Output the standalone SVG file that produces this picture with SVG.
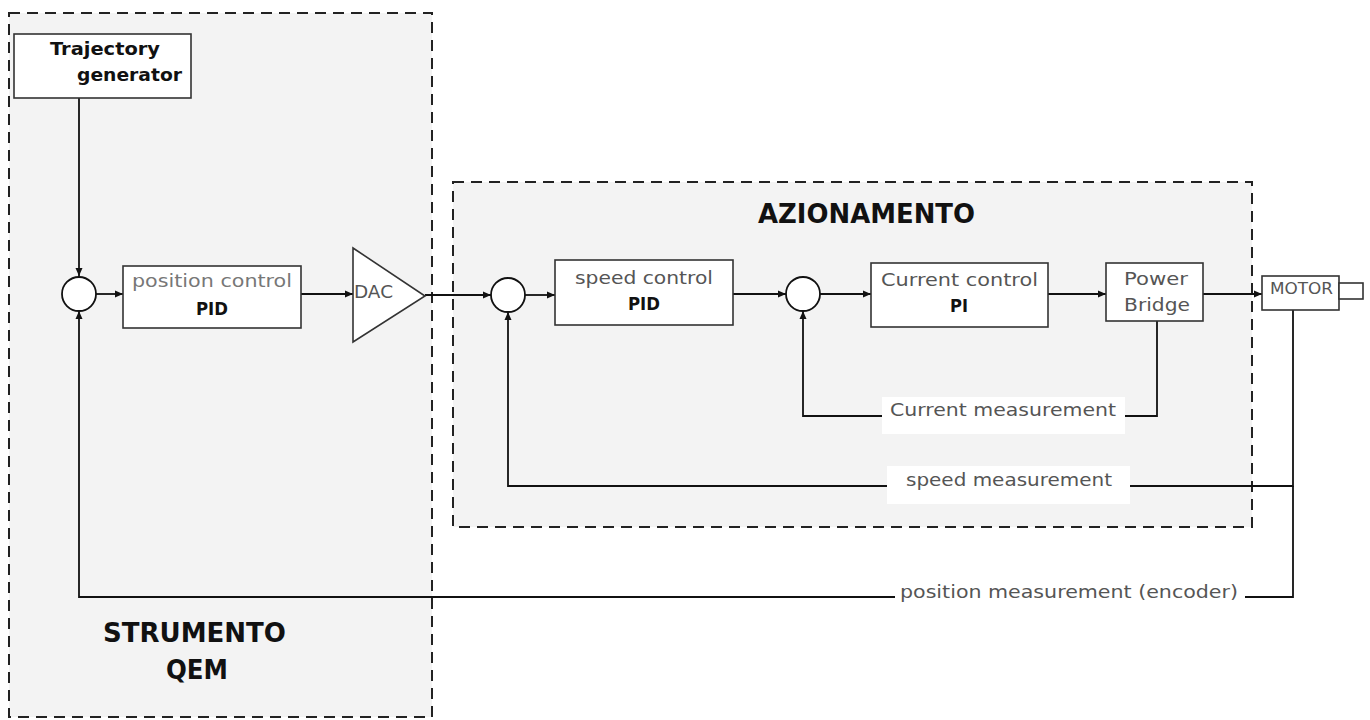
<svg xmlns="http://www.w3.org/2000/svg" width="1370" height="720" viewBox="0 0 1370 720">
<defs>
<marker id="ah" markerWidth="8" markerHeight="8" refX="8" refY="4" orient="auto" markerUnits="userSpaceOnUse">
<path d="M0,0.5 L8,4 L0,7.5 z" fill="#111"/>
</marker>
<style>
.zone{fill:#f3f3f3;stroke:#222;stroke-width:2;stroke-dasharray:11,7}
.box{fill:#fff;stroke:#333;stroke-width:1.6}
.sum{fill:#fff;stroke:#111;stroke-width:1.8}
.wire{fill:none;stroke:#111;stroke-width:1.8}
.arr{marker-end:url(#ah)}
.t{font-family:"DejaVu Sans",Verdana,sans-serif;fill:#555;font-size:17px}
.b{font-family:"DejaVu Sans",Verdana,sans-serif;fill:#111;font-weight:bold;font-size:17px}
.title{font-family:"DejaVu Sans",Verdana,sans-serif;fill:#111;font-weight:bold;font-size:27px}
.lbl{fill:#fff}
</style>
</defs>
<rect x="0" y="0" width="1370" height="720" fill="#fff"/>

<g id="strumento">
<rect class="zone" x="9" y="13" width="423" height="704"/>
<text class="title" x="103" y="642" textLength="183" lengthAdjust="spacingAndGlyphs">STRUMENTO</text>
<text class="title" x="166" y="679" textLength="62" lengthAdjust="spacingAndGlyphs">QEM</text>
</g>

<g id="azionamento">
<rect class="zone" x="453" y="182" width="799" height="345"/>
<text class="title" x="758" y="223" textLength="217" lengthAdjust="spacingAndGlyphs">AZIONAMENTO</text>
</g>

<g id="connectors">
<line class="wire arr" x1="79" y1="98" x2="79" y2="276"/>
<line class="wire arr" x1="96" y1="294" x2="123" y2="294"/>
<line class="wire arr" x1="301" y1="294" x2="353" y2="294"/>
<line class="wire arr" x1="425" y1="295" x2="491" y2="295"/>
<line class="wire arr" x1="525" y1="295" x2="555" y2="295"/>
<line class="wire arr" x1="733" y1="294" x2="786" y2="294"/>
<line class="wire arr" x1="820" y1="294" x2="871" y2="294"/>
<line class="wire arr" x1="1048" y1="294" x2="1106" y2="294"/>
<line class="wire arr" x1="1203" y1="294" x2="1262" y2="294"/>
<polyline class="wire arr" points="1157,321 1157,416 803,416 803,311"/>
<polyline class="wire arr" points="1293,310 1293,486 508,486 508,312"/>
<polyline class="wire arr" points="1293,486 1293,597 79,597 79,311"/>
</g>

<g id="labels">
<rect class="lbl" x="882" y="397" width="243" height="37"/>
<text class="t" x="890" y="416" textLength="226" lengthAdjust="spacingAndGlyphs">Current measurement</text>
<rect class="lbl" x="887" y="466" width="243" height="38"/>
<text class="t" x="906" y="486" textLength="206" lengthAdjust="spacingAndGlyphs">speed measurement</text>
<rect class="lbl" x="895" y="580" width="350" height="30"/>
<text class="t" x="900" y="598" textLength="338" lengthAdjust="spacingAndGlyphs">position measurement (encoder)</text>
</g>

<g id="trajectory">
<rect class="box" x="14" y="34" width="177" height="64"/>
<text class="b" x="50" y="55" textLength="110" lengthAdjust="spacingAndGlyphs">Trajectory</text>
<text class="b" x="77" y="81" textLength="105" lengthAdjust="spacingAndGlyphs">generator</text>
</g>

<g id="sum1"><circle class="sum" cx="79" cy="294" r="17"/></g>

<g id="position-control">
<rect class="box" x="123" y="266" width="178" height="62"/>
<text class="t" x="132" y="287" textLength="160" lengthAdjust="spacingAndGlyphs" style="fill:#777">position control</text>
<text class="b" x="196" y="315" textLength="32" lengthAdjust="spacingAndGlyphs">PID</text>
</g>

<g id="dac">
<polygon class="box" points="353,248 425,296 353,342"/>
<text class="t" x="354" y="298" textLength="39" lengthAdjust="spacingAndGlyphs">DAC</text>
</g>

<g id="sum2"><circle class="sum" cx="508" cy="295" r="17"/></g>

<g id="speed-control">
<rect class="box" x="555" y="260" width="178" height="65"/>
<text class="t" x="575" y="284" textLength="138" lengthAdjust="spacingAndGlyphs">speed control</text>
<text class="b" x="628" y="310" textLength="32" lengthAdjust="spacingAndGlyphs">PID</text>
</g>

<g id="sum3"><circle class="sum" cx="803" cy="294" r="17"/></g>

<g id="current-control">
<rect class="box" x="871" y="263" width="177" height="64"/>
<text class="t" x="881" y="286" textLength="157" lengthAdjust="spacingAndGlyphs">Current control</text>
<text class="b" x="950" y="312" textLength="18" lengthAdjust="spacingAndGlyphs">PI</text>
</g>

<g id="power-bridge">
<rect class="box" x="1106" y="263" width="97" height="58"/>
<text class="t" x="1124" y="285" textLength="64" lengthAdjust="spacingAndGlyphs">Power</text>
<text class="t" x="1124" y="311" textLength="66" lengthAdjust="spacingAndGlyphs">Bridge</text>
</g>

<g id="motor">
<rect class="box" x="1262" y="276" width="77" height="34"/>
<rect class="box" x="1339" y="283" width="24" height="16"/>
<text class="t" x="1270" y="294" style="font-size:15px" textLength="63" lengthAdjust="spacingAndGlyphs">MOTOR</text>
</g>
</svg>
